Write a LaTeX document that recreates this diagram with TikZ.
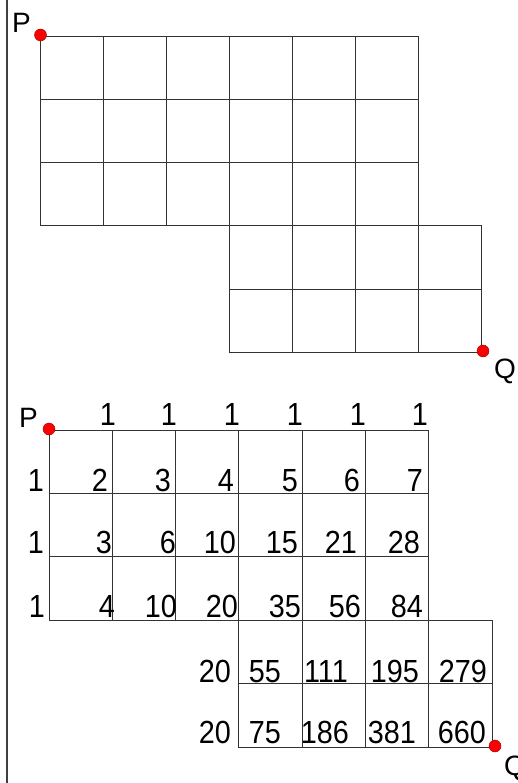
\documentclass[tikz,border=0pt]{standalone}
\usepackage{fontspec}
\setmainfont{Liberation Sans}
\newfontfamily\numfont[FakeStretch=0.9]{Liberation Sans}

\begin{document}
\begin{tikzpicture}[x=1pt,y=-1pt,
    cell/.style={black!80,line width=1pt},
    pt/.style={circle,fill=red,draw=red!60!black,line width=0.4pt,inner sep=0pt,minimum size=12pt},
    lbl/.style={anchor=base west,inner sep=0pt,font=\fontsize{28}{30}\selectfont},
    num/.style={anchor=base east,inner sep=0pt,font=\numfont\fontsize{32}{34}\selectfont}]
  \useasboundingbox (0,0) rectangle (517,783);
  % left border line of the page
  \draw[gray!50!black,line width=1.5pt] (7,0) -- (7,783);
  % top grid: 6x3 block and 4x2 block, cell 63
  \begin{scope}[shift={(40,37)},x=63pt,y=-63pt]
    \foreach \c in {0,...,5} \foreach \r in {0,1,2}
      \draw[cell] (\c,\r) rectangle ++(1,1);
    \foreach \c in {3,...,6} \foreach \r in {3,4}
      \draw[cell] (\c,\r) rectangle ++(1,1);
  \end{scope}
  \node[pt] (p1) at (40.5,35) {};
  \node[pt] (q1) at (483,351) {};
  \node[lbl] (P1) at (12,33) {P};
  \node[lbl] (Q1) at (494,378) {Q};
  % bottom grid, cell 63.3
  \begin{scope}[shift={(49,430)},x=63.3pt,y=-63.4pt]
    \foreach \c in {0,...,5} \foreach \r in {0,1,2}
      \draw[cell] (\c,\r) rectangle ++(1,1);
    \foreach \c in {3,...,6} \foreach \r in {3,4}
      \draw[cell] (\c,\r) rectangle ++(1,1);
  \end{scope}
  \node[pt] (p2) at (49,429) {};
  \node[pt] (q2) at (495,746) {};
  \node[lbl] (P2) at (19,427) {P};
  \node[lbl] (Q2) at (504,775) {Q};
  % path counts (right edge / baseline / value)
  \foreach \x/\y/\v in {116/425/1,177/425/1,240/425/1,303/425/1,366/425/1,428/425/1,
      44/491/1,108/491/2,171/491/3,234/491/4,298/491/5,360/491/6,423/491/7,
      44/553/1,112/553/3,176/553/6,236/553/10,298/553/15,357/553/21,420/553/28,
      45/617/1,115/617/4,177/617/10,238/617/20,301/617/35,361/617/56,423/617/84,
      231/682/20,281/682/55,348/682/111,419/682/195,487/682/279,
      231/743/20,281/743/75,349/743/186,416/743/381,486/743/660}
    \node[num] (v-\x-\y) at (\x,\y) {\v};
\end{tikzpicture}
\end{document}
